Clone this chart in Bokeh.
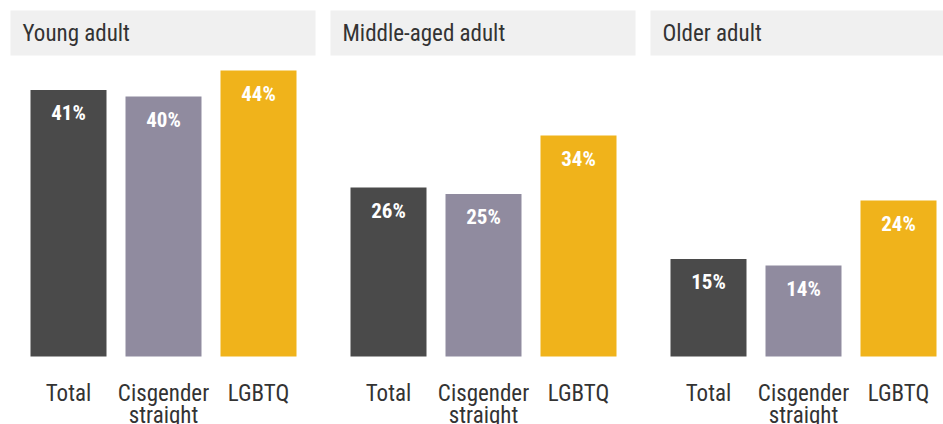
from bokeh.plotting import figure
from bokeh.layouts import row
from bokeh.models import Range1d, ColumnDataSource
from bokeh.core.properties import value
from bokeh.embed import file_html
from bokeh.resources import INLINE
import numpy as np

# ---- data ----
panels = ["Young adult", "Middle-aged adult", "Older adult"]
categories = ["Total", "Cisgender straight", "LGBTQ"]
young_vals = [41, 40, 44]
middle_vals = [26, 25, 34]
older_vals = [15, 14, 24]
panel_values = [young_vals, middle_vals, older_vals]
colors = ["#4a4a4a", "#908b9f", "#f0b31b"]

FONT = "Roboto Condensed, Liberation Sans Narrow, DejaVu Sans Condensed, Roboto, sans-serif"

# layout constants (pixels)
H = 424
PITCH = 95.0          # px per category
C0 = 68.0             # px of first bar centre inside a panel
BASE = 356.0          # px of the zero line from top
PXU = 6.5             # px per percentage point
widths = [320, 320, 303]

def px_x(px):
    return (px - C0) / PITCH

def px_y(py):
    return (BASE - py) / PXU

figs = []
for k, panel in enumerate(panels):
    W = widths[k]
    p = figure(width=W, height=H, output_backend="svg", toolbar_location=None,
               x_range=Range1d(px_x(0), px_x(W)), y_range=Range1d(px_y(H), px_y(0)),
               min_border=0, outline_line_color=None)
    p.axis.visible = False
    p.grid.visible = False
    p.background_fill_color = "white"
    p.border_fill_color = "white"

    # header band
    p.quad(left=[px_x(10)], right=[px_x(315)], top=[px_y(10)], bottom=[px_y(55)],
           fill_color="#f0f0f0", line_color=None)
    p.text(x=[px_x(22)], y=[px_y(33)], text=[panel], text_font=value(FONT),
           text_font_size="23px", text_color="#333333", text_baseline="middle",
           text_align="left")

    xs = np.arange(len(categories))
    vals = panel_values[k]
    src = ColumnDataSource(dict(
        x=xs, top=vals, color=colors,
        lab=[f"{v}%" for v in vals],
        l1=[c.split(" ")[0] for c in categories],
        l2=[" ".join(c.split(" ")[1:]) for c in categories],
    ))
    p.vbar(x="x", top="top", bottom=0, width=76 / PITCH, fill_color="color",
           line_color=None, source=src)
    p.text(x="x", y="top", text="lab", source=src, y_offset=23,
           text_font=value(FONT), text_font_size="21px", text_font_style="bold",
           text_color="white", text_align="center", text_baseline="middle")
    p.text(x="x", y=0, text="l1", source=src, y_offset=37,
           text_font=value(FONT), text_font_size="23px", text_color="#333333",
           text_align="center", text_baseline="middle")
    p.text(x="x", y=0, text="l2", source=src, y_offset=59,
           text_font=value(FONT), text_font_size="23px", text_color="#333333",
           text_align="center", text_baseline="middle")
    figs.append(p)

layout = row(*figs, spacing=0)
open("out.html", "w").write(file_html(layout, INLINE))
